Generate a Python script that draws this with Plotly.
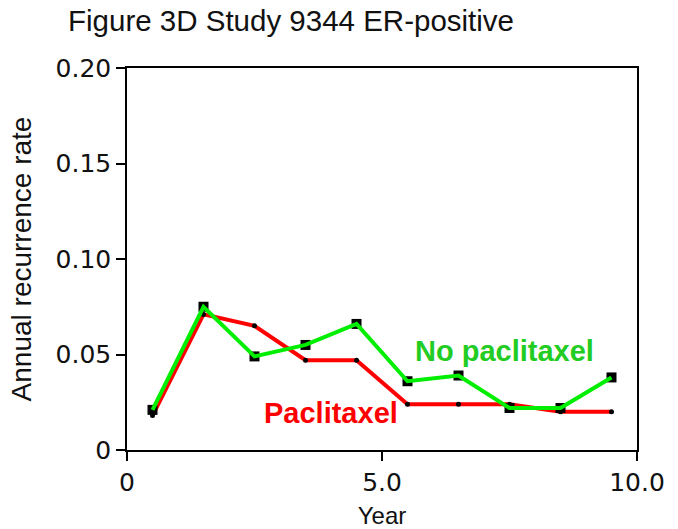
import plotly.graph_objects as go

years = [0.5, 1.5, 2.5, 3.5, 4.5, 5.5, 6.5, 7.5, 8.5, 9.5]
paclitaxel = [0.018, 0.071, 0.065, 0.047, 0.047, 0.024, 0.024, 0.024, 0.020, 0.020]
no_paclitaxel = [0.021, 0.075, 0.049, 0.055, 0.066, 0.036, 0.039, 0.022, 0.022, 0.038]

x_tickvals = [0, 5, 10]
x_ticktext = ["0", "5.0", "10.0"]
y_tickvals = [0, 0.05, 0.10, 0.15, 0.20]
y_ticktext = ["0", "0.05", "0.10", "0.15", "0.20"]

RED = "#ff0000"
GREEN = "#00ee00"
GREEN_TEXT = "#22cc22"

fig = go.Figure()
fig.add_trace(go.Scatter(
    x=years, y=paclitaxel, mode="lines+markers",
    line=dict(color=RED, width=4),
    marker=dict(color="black", size=5, symbol="circle"),
    showlegend=False, cliponaxis=False))
fig.add_trace(go.Scatter(
    x=years, y=no_paclitaxel, mode="markers",
    marker=dict(color="black", size=10, symbol="square"),
    showlegend=False, cliponaxis=False))
fig.add_trace(go.Scatter(
    x=years, y=no_paclitaxel, mode="lines",
    line=dict(color=GREEN, width=4),
    showlegend=False, cliponaxis=False))

fig.add_annotation(x=7.41, y=0.052, text="<b>No paclitaxel</b>", showarrow=False,
                   font=dict(family="Liberation Sans, Arial", size=29, color=GREEN_TEXT),
                   xanchor="center", yanchor="middle")
fig.add_annotation(x=4.0, y=0.0192, text="<b>Paclitaxel</b>", showarrow=False,
                   font=dict(family="Liberation Sans, Arial", size=29, color=RED),
                   xanchor="center", yanchor="middle")
fig.add_annotation(x=0.508, xref="paper", y=1.18, yref="paper", text="Year",
                   showarrow=False, font=dict(family="DejaVu Sans", size=22, color="#555555"),
                   xanchor="center", yanchor="bottom")

fig.update_layout(
    width=678, height=529,
    margin=dict(l=127, r=41, t=68, b=79),
    paper_bgcolor="white", plot_bgcolor="white",
    title=dict(text="Figure 3D Study 9344 ER-positive", x=68/678, xanchor="left",
               y=1 - 21/529, yanchor="middle",
               font=dict(family="Liberation Sans, Arial", size=29.5, color="#111111")),
    xaxis=dict(range=[0, 10], tickvals=x_tickvals, ticktext=x_ticktext,
               showline=True, linecolor="black", linewidth=1.5, mirror=True,
               ticks="outside", ticklen=9, tickwidth=1.5, tickcolor="black",
               showgrid=False, zeroline=False, automargin=False,
               tickfont=dict(family="DejaVu Sans", size=25, color="#111111"),
               title=dict(text="Year", standoff=11,
                          font=dict(family="Liberation Sans, Arial", size=24, color="#111111"))),
    yaxis=dict(range=[0, 0.20], tickvals=y_tickvals, ticktext=y_ticktext,
               showline=True, linecolor="black", linewidth=1.5, mirror=True,
               ticks="outside", ticklen=9, tickwidth=1.5, tickcolor="black",
               showgrid=False, zeroline=False, automargin=False,
               tickfont=dict(family="DejaVu Sans", size=25, color="#111111"),
               title=dict(text="Annual recurrence rate", standoff=16,
                          font=dict(family="Liberation Sans, Arial", size=28, color="#111111"))),
)

fig.write_html("out.html")
